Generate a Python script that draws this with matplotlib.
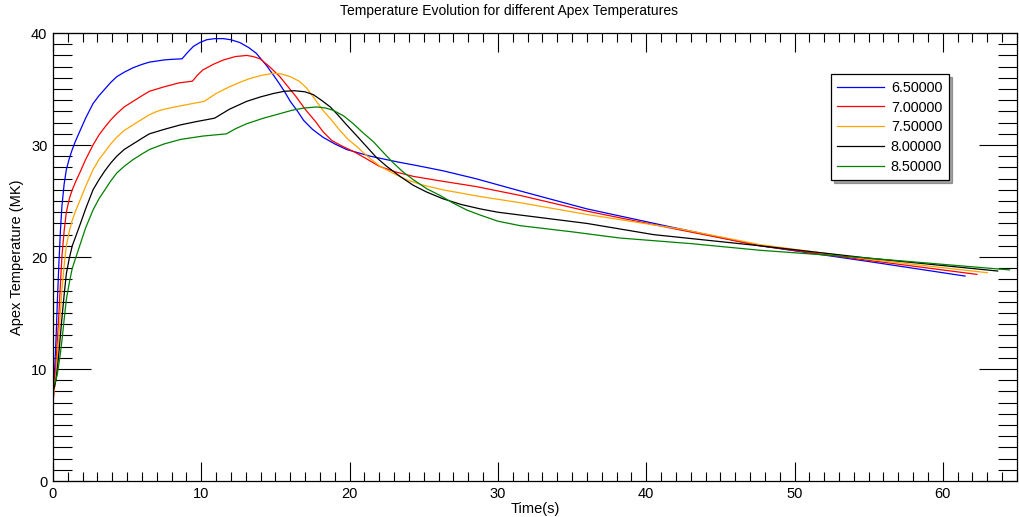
import numpy as np
import matplotlib.pyplot as plt
from matplotlib.ticker import MultipleLocator

plt.rcParams['font.family'] = ['Liberation Sans', 'DejaVu Sans']

# curvas: tiempo (s) y temperatura del apice (MK)
t_65 = [0, 0.1, 0.2, 0.3, 0.4, 0.5, 0.6, 0.75, 0.9, 1.1, 1.3, 1.5, 1.8, 2.2, 2.7, 3.1, 3.5,
        3.9, 4.3, 4.8, 5.4, 6.0, 6.5, 7.0, 7.5, 8.0, 8.7,
        9.1, 9.46, 9.9, 10.36, 10.9, 11.48, 12.0, 12.6, 13.2, 13.7, 14.4, 15.1, 15.6,
        16.0, 16.5, 16.9, 17.5, 18.2, 19.0, 19.8, 20.6, 21.4, 22.3, 23.2, 24.6, 26.3,
        28.5, 31.5, 36.0, 41.6, 47.7, 55.0, 61.5]
T_65 = [6.6, 9.5, 12.5, 16.2, 19.5, 22.3, 24.5, 26.5, 27.8, 28.8, 29.6, 30.3, 31.2, 32.4, 33.7, 34.4, 35.0,
        35.6, 36.1, 36.5, 36.9, 37.2, 37.4, 37.5, 37.6, 37.65, 37.7,
        38.3, 38.8, 39.15, 39.4, 39.5, 39.5, 39.4, 39.15, 38.7, 38.2, 37.1, 35.8, 34.8,
        33.9, 33.0, 32.2, 31.4, 30.7, 30.1, 29.6, 29.3, 29.0, 28.75, 28.5, 28.15, 27.7,
        27.0, 25.9, 24.3, 22.7, 21.0, 19.6, 18.3]

t_70 = [0, 0.1, 0.2, 0.3, 0.4, 0.5, 0.6, 0.75, 0.9, 1.1, 1.3, 1.55, 1.8, 2.2, 2.7, 3.1, 3.5,
        3.9, 4.3, 4.8, 5.4, 6.0, 6.5, 7.0, 7.5, 8.5, 9.4,
        9.75, 10.1, 10.8, 11.5, 12.3, 13.06, 13.5, 13.96, 14.6, 15.3, 15.85, 16.4, 17.0,
        17.7, 18.2, 18.8, 19.5, 20.3, 21.1, 22.0, 23.1, 24.3, 26.1, 28.5,
        31.5, 36.0, 41.6, 47.7, 55.0, 62.3]
T_70 = [7.0, 8.5, 10.5, 12.7, 15.0, 17.6, 20.0, 22.3, 24.0, 25.2, 26.0, 26.8, 27.5, 28.7, 30.0, 30.9, 31.6,
        32.25, 32.8, 33.4, 33.9, 34.4, 34.8, 35.0, 35.2, 35.55, 35.7,
        36.25, 36.7, 37.2, 37.6, 37.9, 38.0, 37.9, 37.7, 37.0, 36.1, 35.2, 34.3, 33.2,
        32.1, 31.2, 30.4, 29.9, 29.4, 28.8, 28.1, 27.6, 27.2, 26.8, 26.3,
        25.5, 24.1, 22.6, 21.0, 19.7, 18.45]

t_75 = [0, 0.1, 0.2, 0.3, 0.4, 0.5, 0.6, 0.75, 0.9, 1.1, 1.3, 1.55, 1.8, 2.2, 2.7, 3.1, 3.5,
        3.9, 4.3, 4.8, 5.4, 6.0, 6.5, 7.0, 7.5, 8.6, 9.4, 10.2,
        11.0, 11.9, 12.6, 13.3, 14.0, 14.8, 15.4, 16.0, 16.6, 17.1, 17.6, 18.2, 18.8,
        19.35, 19.9, 20.5, 21.2, 22.05, 22.9, 23.85, 25.0, 26.3, 28.8,
        31.5, 36.0, 42.3, 47.7, 55.0, 63.0]
T_75 = [7.5, 8.3, 9.5, 11.2, 13.0, 15.0, 17.0, 19.2, 21.0, 22.3, 23.3, 24.2, 25.0, 26.3, 27.8, 28.7, 29.4,
        30.1, 30.7, 31.3, 31.8, 32.3, 32.7, 33.0, 33.2, 33.5, 33.7, 33.9,
        34.6, 35.2, 35.6, 35.95, 36.2, 36.4, 36.35, 36.1, 35.7, 35.1, 34.2, 33.1, 32.2,
        31.3, 30.5, 29.85, 29.0, 28.1, 27.5, 26.9, 26.4, 26.0, 25.4,
        24.85, 23.8, 22.5, 21.1, 19.8, 18.6]

t_80 = [0, 0.1, 0.2, 0.3, 0.4, 0.5, 0.6, 0.75, 0.9, 1.1, 1.3, 1.55, 1.8, 2.2, 2.7, 3.1, 3.5,
        3.9, 4.3, 4.8, 5.4, 6.0, 6.5, 7.0, 7.5, 8.6, 9.7, 10.9,
        11.9, 13.06, 14.0, 14.86, 15.6, 16.3, 17.0, 17.55, 18.1, 18.7, 19.2, 19.8, 20.5,
        21.15, 21.8, 22.5, 23.4, 24.3, 25.2, 26.3, 27.5, 28.8, 30.0,
        31.5, 36.0, 40.5, 47.7, 55.0, 63.7]
T_80 = [8.0, 8.4, 9.0, 10.1, 11.5, 13.0, 14.5, 16.6, 18.5, 19.9, 21.0, 21.9, 22.8, 24.3, 26.0, 26.9, 27.7,
        28.4, 29.0, 29.6, 30.1, 30.6, 31.0, 31.2, 31.4, 31.8, 32.1, 32.4,
        33.2, 33.9, 34.3, 34.6, 34.8, 34.85, 34.75, 34.5, 34.0, 33.4, 32.7, 31.8, 30.8,
        29.85, 28.9, 28.1, 27.2, 26.4, 25.8, 25.2, 24.7, 24.3, 24.0,
        23.75, 23.0, 22.0, 21.0, 19.9, 18.75]

t_85 = [0, 0.1, 0.2, 0.3, 0.4, 0.5, 0.6, 0.75, 0.9, 1.1, 1.3, 1.55, 1.8, 2.2, 2.7, 3.1, 3.5,
        3.9, 4.3, 4.8, 5.4, 6.0, 6.5, 7.0, 7.5, 8.6, 10.1, 11.7,
        12.3, 13.06, 14.2, 15.3, 16.1, 16.9, 17.8, 18.4, 18.9, 19.6, 20.25, 20.9, 21.6,
        22.3, 22.95, 23.6, 24.3, 25.2, 26.1, 27.0, 27.9, 28.8, 30.0,
        31.5, 35.0, 38.2, 43.0, 47.7, 55.0, 64.5]
T_85 = [8.7, 8.7, 9.0, 9.6, 10.5, 11.4, 12.5, 14.4, 16.2, 17.7, 19.0, 20.0, 21.0, 22.6, 24.2, 25.2, 26.0,
        26.8, 27.5, 28.1, 28.7, 29.2, 29.6, 29.85, 30.1, 30.5, 30.8, 31.0,
        31.45, 31.9, 32.4, 32.8, 33.1, 33.3, 33.4, 33.3, 33.1, 32.6, 31.9, 31.1, 30.3,
        29.3, 28.4, 27.6, 26.9, 26.1, 25.5, 24.8, 24.2, 23.75, 23.2,
        22.8, 22.25, 21.7, 21.2, 20.6, 19.9, 18.85]

etiquetas = ['6.50000', '7.00000', '7.50000', '8.00000', '8.50000']
colores = ['#0000ff', '#ff0000', '#ffa500', '#000000', '#008000']
series = [(t_65, T_65), (t_70, T_70), (t_75, T_75), (t_80, T_80), (t_85, T_85)]

fig = plt.figure(figsize=(10.19, 5.17), dpi=100)
ax = fig.add_axes([0.052, 0.0696, 0.946, 0.8665])

for (t, T), c, lab in zip(series, colores, etiquetas):
    ax.plot(t, T, color=c, linewidth=0.9, label=lab)

ax.set_xlim(0, 65)
ax.set_ylim(0, 40)
ax.xaxis.set_major_locator(MultipleLocator(10))
ax.xaxis.set_minor_locator(MultipleLocator(1))
ax.yaxis.set_major_locator(MultipleLocator(10))
ax.yaxis.set_minor_locator(MultipleLocator(1))

# ticks estilo IDL, hacia adentro en los cuatro lados
ax.tick_params(which='both', direction='in', top=True, right=True, width=0.8,
               labelsize=10.5)
ax.tick_params(axis='x', which='major', length=13.7, pad=4)
ax.tick_params(axis='x', which='minor', length=6.5)
ax.tick_params(axis='y', which='major', length=27.4, pad=4)
ax.tick_params(axis='y', which='minor', length=13.7)
for s in ax.spines.values():
    s.set_linewidth(0.9)

fig.text(0.5, 0.979, 'Temperature Evolution for different Apex Temperatures',
         fontsize=10, ha='center', va='center')
ax.set_xlabel('Time(s)', fontsize=10.5, labelpad=1)
ax.set_ylabel('Apex Temperature (MK)', fontsize=10.5, labelpad=5)

leg = ax.legend(loc='upper left', bbox_to_anchor=(0.807, 0.908), borderaxespad=0,
                fancybox=False, shadow=True, edgecolor='black', framealpha=1,
                fontsize=10.4, handlelength=3.2, handletextpad=0.5,
                labelspacing=0.4, borderpad=0.45)
leg.get_frame().set_linewidth(0.9)

fig.savefig('out.png', dpi=100)
